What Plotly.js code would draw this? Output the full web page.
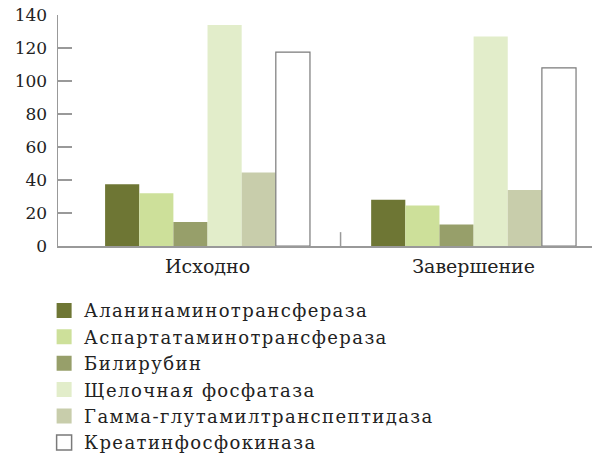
<!DOCTYPE html>
<html><head><meta charset="utf-8">
<script src="https://cdn.plot.ly/plotly-3.0.1.min.js"></script>
<style>html,body{margin:0;padding:0;background:#fff}#chart{width:592px;height:453px}
.legendtext{letter-spacing:1.4px}</style>
</head><body><div id="chart"></div>
<script>
const categories = ["Исходно", "Завершение"];
const seriesNames = ["Аланинаминотрансфераза", "Аспартатаминотрансфераза", "Билирубин", "Щелочная фосфатаза", "Гамма-глутамилтранспептидаза", "Креатинфосфокиназа"];
const alt = [37.5, 28];
const ast = [32, 24.5];
const bilirubin = [14.5, 13];
const alkPhos = [134, 127];
const ggt = [44.5, 34];
const cpk = [117.5, 108];
const yTicks = [0, 20, 40, 60, 80, 100, 120, 140];

const seriesValues = [alt, ast, bilirubin, alkPhos, ggt, cpk];
const colors = ["#6e7634", "#cde09a", "#979f6a", "#e2edca", "#c8cdab", "#ffffff"];
const lineColors = ["#6e7634", "#cde09a", "#979f6a", "#e2edca", "#c8cdab", "#7a7a7a"];
const lineWidths = [0, 0, 0, 0, 0, 1.2];

const font = "DejaVu Serif";
const traces = seriesNames.map((n, i) => ({
  type: "bar", name: n, x: categories, y: seriesValues[i],
  marker: {color: colors[i], line: {color: lineColors[i], width: lineWidths[i]}},
  hoverinfo: "skip"
}));

const layout = {
  width: 592, height: 453,
  margin: {l: 58, r: 0, t: 15, b: 207, autoexpand: false},
  paper_bgcolor: "#fff", plot_bgcolor: "#fff",
  barmode: "group", bargap: 0.23, bargroupgap: 0,
  font: {family: font, size: 18, color: "#222"},
  showlegend: true,
  xaxis: {
    type: "category", range: [-0.562, 1.445],
    showline: true, linecolor: "#999", linewidth: 1.5,
    ticks: "", showgrid: false, zeroline: false,
    tickfont: {family: font, size: 19, color: "#222"}, ticklabelstandoff: 3
  },
  yaxis: {
    range: [0, 140], tickvals: yTicks, ticktext: yTicks.map(String),
    showline: true, linecolor: "#999", linewidth: 1.5,
    ticks: "inside", ticklen: 14, tickcolor: "#999", tickwidth: 1.5,
    showgrid: false, zeroline: false, ticklabelstandoff: 6,
    tickfont: {family: font, size: 17, color: "#222"}
  },
  shapes: [{type: "line", xref: "x", yref: "paper", x0: 0.5, x1: 0.5, y0: 0, y1: 0.06,
            line: {color: "#999", width: 1.5}}],
  legend: {
    orientation: "v", x: -0.026, xanchor: "left", y: -0.2, yanchor: "top",
    font: {family: font, size: 18, color: "#222"},
    itemwidth: 30, tracegroupgap: 0, traceorder: "normal",
    bgcolor: "rgba(0,0,0,0)"
  }
};
Plotly.newPlot("chart", traces, layout, {displayModeBar: false, staticPlot: true}).then(gd => {
  gd.querySelectorAll(".legend .legendpoints path").forEach(p => {
    const t = p.getAttribute("transform") || "";
    p.setAttribute("transform", t + " scale(1.25)");
  });
});
</script></body></html>
